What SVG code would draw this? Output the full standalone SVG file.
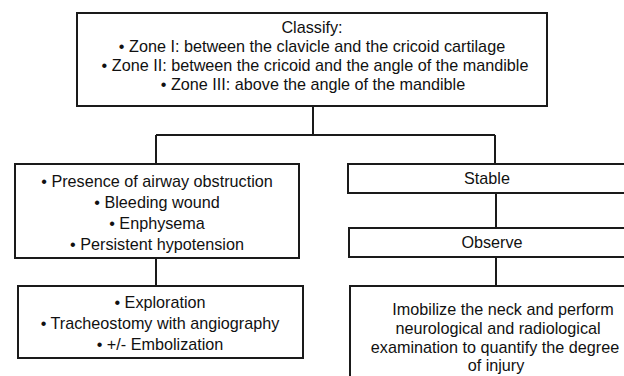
<svg xmlns="http://www.w3.org/2000/svg" width="624" height="376" viewBox="0 0 624 376">
<style>
.box{fill:#fff;stroke:#1a1a1a;stroke-width:2}
.con{fill:none;stroke:#1a1a1a;stroke-width:2}
text{font-family:"Liberation Sans",Arial,sans-serif;font-size:16.2px;fill:#111;text-anchor:middle}
</style>
<rect width="624" height="376" fill="#fff"/>
<g id="connectors">
<path class="con" d="M313 106V135M156 135H495M156 135V164M495 135V164M156 258V286M496 193V228M496 257V286"/>
</g>
<g id="classify">
<rect class="box" x="77" y="13" width="470" height="93"/>
<text x="312" y="33">Classify:</text>
<text x="312" y="52">• Zone I: between the clavicle and the cricoid cartilage</text>
<text x="315" y="71">• Zone II: between the cricoid and the angle of the mandible</text>
<text x="313" y="90">• Zone III: above the angle of the mandible</text>
</g>
<g id="unstable">
<rect class="box" x="15" y="164" width="284" height="94"/>
<text x="157" y="187">• Presence of airway obstruction</text>
<text x="157" y="208">• Bleeding wound</text>
<text x="157" y="229">• Enphysema</text>
<text x="157" y="250">• Persistent hypotension</text>
</g>
<g id="exploration">
<rect class="box" x="18" y="286" width="285" height="72"/>
<text x="160" y="308">• Exploration</text>
<text x="160" y="329">• Tracheostomy with angiography</text>
<text x="160" y="350">• +/- Embolization</text>
</g>
<g id="stable">
<rect class="box" x="348" y="164" width="300" height="29"/>
<text x="487" y="184">Stable</text>
</g>
<g id="observe">
<rect class="box" x="349" y="228" width="300" height="29"/>
<text x="492" y="248">Observe</text>
</g>
<g id="imobilize">
<rect class="box" x="350" y="286" width="300" height="100"/>
<text x="503" y="315">Imobilize the neck and perform</text>
<text x="498" y="334">neurological and radiological</text>
<text x="495" y="353">examination to quantify the degree</text>
<text x="496" y="371">of injury</text>
</g>
</svg>
